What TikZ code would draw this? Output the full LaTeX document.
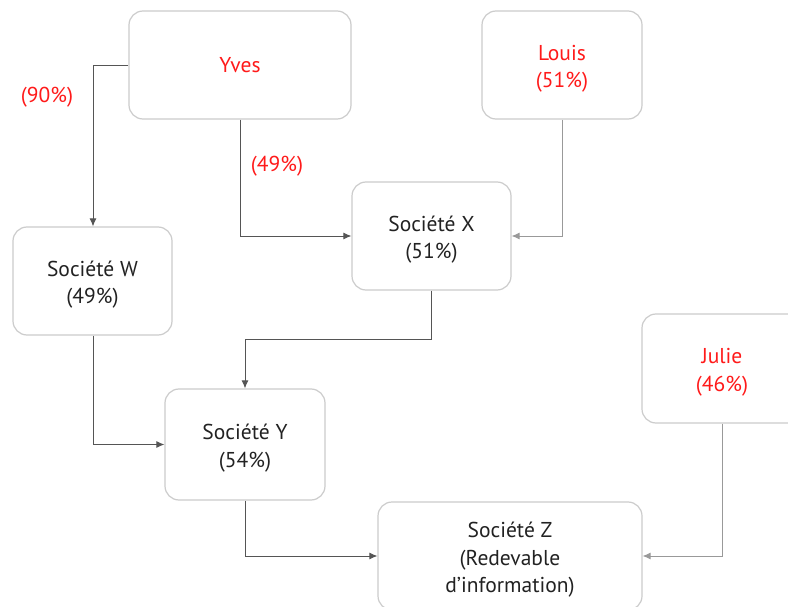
\documentclass[tikz,border=0pt]{standalone}
\usepackage{fontspec}
\setmainfont{PT Sans}
\usetikzlibrary{arrows.meta}
\definecolor{boxline}{HTML}{CCCCCC}
\definecolor{linkline}{HTML}{555555}
\definecolor{lightlink}{HTML}{999999}
\definecolor{ownred}{HTML}{FF1A1A}
\definecolor{ink}{HTML}{222222}
% a tall invisible strut that nudges a multi-line text block down a little
\newcommand{\liftstrut}{\rule{0pt}{23pt}}
\tikzset{
  entity/.style={draw=boxline, line width=1.2pt, rounded corners=14pt, fill=white,
    align=center, inner sep=0pt, font=\fontsize{21.5}{27.5}\selectfont, text=ink},
  person/.style={entity, text=ownred},
  link/.style={draw=linkline, line width=0.9pt, -{Latex[length=8pt,width=7pt]}},
  softlink/.style={link, draw=lightlink},
  share/.style={text=ownred, font=\fontsize{21.5}{24}\selectfont, inner sep=2pt}
}
\begin{document}
\begin{tikzpicture}[x=1pt, y=-1pt]
\useasboundingbox[fill=white] (0,0) rectangle (788,607);

% boxes
\node[person, minimum width=222pt, minimum height=108pt] (yves) at (240,65) {Yves};
\node[person, minimum width=160pt, minimum height=108pt] (louis) at (562,65) {\liftstrut Louis\\(51\%)};
\node[entity, minimum width=159pt, minimum height=108pt] (sx) at (431.5,236) {\liftstrut Société X\\(51\%)};
\node[entity, minimum width=159pt, minimum height=108pt] (sw) at (92.5,281) {\liftstrut Société W\\(49\%)};
\node[entity, minimum width=160pt, minimum height=111pt] (sy) at (245,444.5) {\liftstrut Société Y\\(54\%)};
\node[person, minimum width=160pt, minimum height=109pt] (julie) at (722,368.5) {\liftstrut Julie\\(46\%)};
\node[entity, minimum width=264pt, minimum height=108pt] (sz) at (510,556) {\liftstrut Société Z\\(Redevable\\d’information)};

% ownership labels
\node[share] (p90) at (47,97) {(90\%)};
\node[share] (p49) at (277,166) {(49\%)};

% helper corners
\coordinate (wtop) at (93,0);
\coordinate (xbend) at (0,339);

% connectors
\draw[link] (yves.west) -| (sw.north -| wtop);
\draw[link] (yves.south) |- (sx.west);
\draw[softlink] (louis.south) |- (sx.east);
\draw[link] (sx.south) -- (sx.south |- xbend) -| (sy.north);
\draw[link] (sw.south -| wtop) |- (sy.west);
\draw[link] (sy.south) |- (sz.west);
\draw[softlink] (julie.south) |- (sz.east);
\end{tikzpicture}
\end{document}
